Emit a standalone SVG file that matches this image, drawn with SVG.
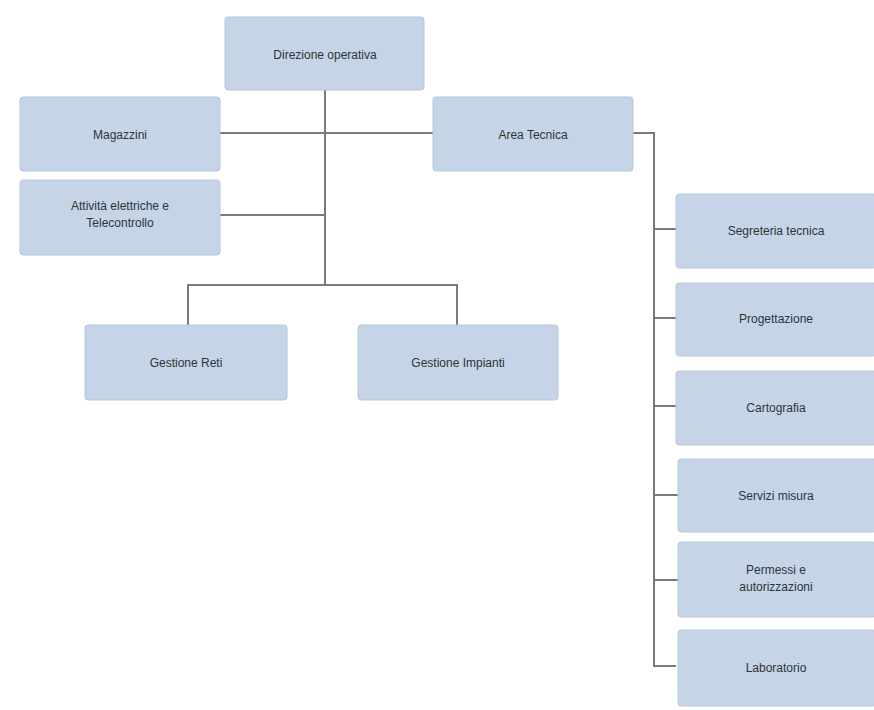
<svg xmlns="http://www.w3.org/2000/svg" width="874" height="710" viewBox="0 0 874 710">
<style>
.box{fill:#c5d5e7;stroke:#b7c6d8;stroke-width:1}
.sh{fill:#d8dde3}
.t{font-family:"Liberation Sans",Arial,sans-serif;font-size:12px;fill:#2f3338;text-anchor:middle}
.c{stroke:#7a7a7a;stroke-width:2;fill:none}
</style>
<rect width="874" height="710" fill="#ffffff"/>
<g id="connectors">
<path class="c" d="M325 90V285"/>
<path class="c" d="M220 133H433"/>
<path class="c" d="M220 215H325"/>
<path class="c" d="M188 325V285H457V325"/>
<path class="c" d="M633 133H654V666H676"/>
<path class="c" d="M654 229H676M654 318H676M654 406H676M654 495H678M654 580H678"/>
</g>
<g id="n-direzione"><rect class="box" x="225" y="17" width="199" height="73" rx="3"/><text class="t" x="325" y="59">Direzione operativa</text></g>
<g id="n-magazzini"><rect class="box" x="20" y="97" width="200" height="74" rx="3"/><text class="t" x="120" y="139">Magazzini</text></g>
<g id="n-area"><rect class="box" x="433" y="97" width="200" height="74" rx="3"/><text class="t" x="533" y="139">Area Tecnica</text></g>
<g id="n-attivita"><rect class="box" x="20" y="180" width="200" height="75" rx="3"/><text class="t" x="120" y="210">Attività elettriche e</text><text class="t" x="120" y="227">Telecontrollo</text></g>
<g id="n-reti"><rect class="box" x="85" y="325" width="202" height="75" rx="3"/><text class="t" x="186" y="367">Gestione Reti</text></g>
<g id="n-impianti"><rect class="box" x="358" y="325" width="200" height="75" rx="3"/><text class="t" x="458" y="367">Gestione Impianti</text></g>
<g id="n-segreteria"><rect class="box" x="676" y="194" width="200" height="74" rx="3"/><text class="t" x="776" y="235">Segreteria tecnica</text></g>
<g id="n-progettazione"><rect class="box" x="676" y="283" width="200" height="73" rx="3"/><text class="t" x="776" y="323">Progettazione</text></g>
<g id="n-cartografia"><rect class="box" x="676" y="371" width="200" height="74" rx="3"/><text class="t" x="776" y="412">Cartografia</text></g>
<g id="n-servizi"><rect class="box" x="678" y="459" width="198" height="73" rx="3"/><text class="t" x="776" y="500">Servizi misura</text></g>
<g id="n-permessi"><rect class="box" x="678" y="542" width="198" height="75" rx="3"/><text class="t" x="776" y="574">Permessi e</text><text class="t" x="776" y="591">autorizzazioni</text></g>
<g id="n-laboratorio"><rect class="box" x="678" y="630" width="198" height="76" rx="3"/><text class="t" x="776" y="672">Laboratorio</text></g>
</svg>
